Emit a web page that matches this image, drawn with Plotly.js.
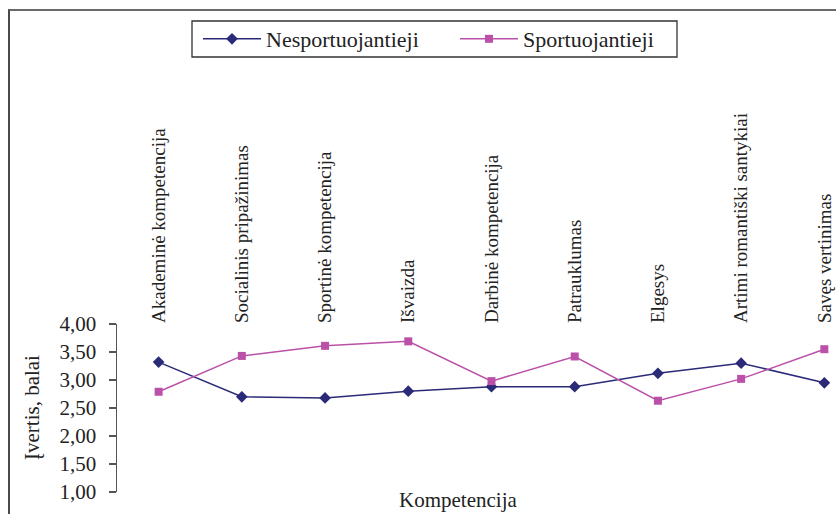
<!DOCTYPE html>
<html>
<head>
<meta charset="utf-8">
<script src="https://cdn.plot.ly/plotly-3.0.1.min.js"></script>
<style>
  html, body { margin: 0; padding: 0; background: #fff; }
  #wrap { position: relative; width: 836px; height: 514px; overflow: hidden; }
  #chart { width: 836px; height: 514px; }
  #frame { position: absolute; left: 8px; top: 9px; width: 840px; height: 520px;
           border-top: 2px solid #6a6a6a; border-left: 2px solid #4a4a4a; pointer-events: none; }
</style>
</head>
<body>
<div id="wrap">
  <div id="chart"></div>
  <div id="frame"></div>
</div>
<script>
const categories = [
  "Akademinė kompetencija",
  "Socialinis pripažinimas",
  "Sportinė kompetencija",
  "Išvaizda",
  "Darbinė kompetencija",
  "Patrauklumas",
  "Elgesys",
  "Artimi romantiški santykiai",
  "Savęs vertinimas"
];
const nesportuojantieji = [3.32, 2.70, 2.68, 2.80, 2.88, 2.88, 3.12, 3.30, 2.95];
const sportuojantieji   = [2.79, 3.43, 3.61, 3.69, 2.98, 3.42, 2.63, 3.02, 3.55];
const yTickVals = [1.0, 1.5, 2.0, 2.5, 3.0, 3.5, 4.0];

const FONT = "Liberation Serif";

const traces = [
  {
    x: categories, y: nesportuojantieji, name: "Nesportuojantieji",
    type: "scatter", mode: "lines+markers", legend: "legend",
    line: { color: "#2a2a78", width: 1.5 },
    marker: { symbol: "diamond", size: 9, color: "#2a2a78" }
  },
  {
    x: categories, y: sportuojantieji, name: "Sportuojantieji",
    type: "scatter", mode: "lines+markers", legend: "legend2",
    line: { color: "#bb50a8", width: 1.5 },
    marker: { symbol: "square", size: 8, color: "#bb50a8" }
  }
];

const legendBase = {
  orientation: "h", yanchor: "middle", xanchor: "left",
  borderwidth: 0, bgcolor: "rgba(0,0,0,0)", itemwidth: 58,
  font: { family: FONT, size: 22, color: "#222" }
};

const layout = {
  width: 836, height: 514,
  margin: { l: 117, r: 0, t: 324, b: 22 },
  paper_bgcolor: "#fff", plot_bgcolor: "#fff",
  separators: ",.",
  font: { family: FONT, size: 20, color: "#222" },
  showlegend: true,
  legend: Object.assign({}, legendBase, { x: 0.11266, y: 2.6964 }),
  legend2: Object.assign({}, legendBase, { x: 0.47010, y: 2.6964 }),
  shapes: [
    { type: "rect", xref: "paper", yref: "paper",
      x0: 0.10431, x1: 0.77886, y0: 2.5893, y1: 2.8036,
      line: { color: "#333", width: 1.3 }, fillcolor: "rgba(0,0,0,0)", layer: "above" }
  ],
  xaxis: {
    type: "category", side: "top", tickangle: -90,
    range: [-0.5, 8.14], showline: false, showgrid: false, zeroline: false,
    ticks: "", tickfont: { family: FONT, size: 19, color: "#222" }
  },
  yaxis: {
    range: [1, 4], tickvals: yTickVals, tickformat: ".2f",
    showline: true, linecolor: "#555", linewidth: 1.5,
    ticks: "outside", ticklen: 7, tickcolor: "#555", tickwidth: 1.5,
    showgrid: false, zeroline: false, ticklabelstandoff: 8,
    tickfont: { family: FONT, size: 21, color: "#222" }
  },
  annotations: [
    { text: "Įvertis, balai", textangle: -90, xref: "paper", yref: "paper",
      x: -0.1182, y: 0.5, xanchor: "center", yanchor: "middle", showarrow: false,
      font: { family: FONT, size: 21, color: "#222" } },
    { text: "Kompetencija", xref: "paper", yref: "paper",
      x: 0.474, y: -0.046, xanchor: "center", yanchor: "middle", showarrow: false,
      font: { family: FONT, size: 21, color: "#222" } }
  ]
};

Plotly.newPlot("chart", traces, layout, { staticPlot: true, displayModeBar: false });
</script>
</body>
</html>
